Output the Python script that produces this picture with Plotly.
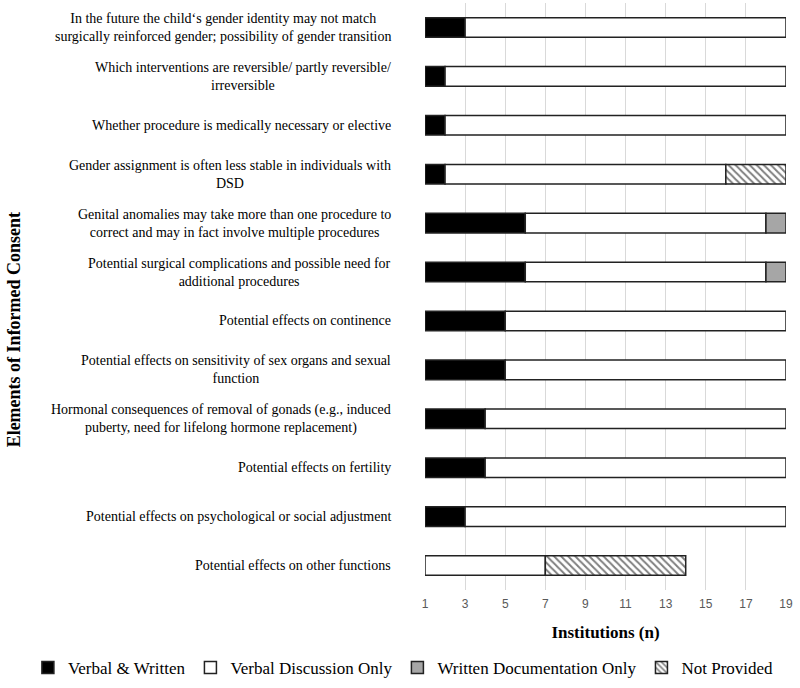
import plotly.graph_objects as go
import numpy as np

# Elementos do consentimento informado (de cima para baixo)
elements = [
    "In the future the child‘s gender identity may not match<br>surgically reinforced gender; possibility of gender transition",
    "Which interventions are reversible/ partly reversible/<br>irreversible",
    "Whether procedure is medically necessary or elective",
    "Gender assignment is often less stable in individuals with<br>DSD",
    "Genital anomalies may take more than one procedure to<br>correct and may in fact involve multiple procedures",
    "Potential surgical complications and possible need for<br>additional procedures",
    "Potential effects on continence",
    "Potential effects on sensitivity of sex organs and sexual<br>function",
    "Hormonal consequences of removal of gonads (e.g., induced<br>puberty, need for lifelong hormone replacement)",
    "Potential effects on fertility",
    "Potential effects on psychological or social adjustment",
    "Potential effects on other functions",
]

verbal_written = [2, 1, 1, 1, 5, 5, 4, 4, 3, 3, 2, 0]
verbal_only = [16, 17, 17, 14, 12, 12, 14, 14, 15, 15, 16, 6]
written_only = [0, 0, 0, 0, 1, 1, 0, 0, 0, 0, 0, 0]
not_provided = [0, 0, 0, 3, 0, 0, 0, 0, 0, 0, 0, 7]

x_ticks = [1, 3, 5, 7, 9, 11, 13, 15, 17, 19]
axis_start = 1

series = [
    ("Verbal & Written", verbal_written, "black", ""),
    ("Verbal Discussion Only", verbal_only, "white", ""),
    ("Written Documentation Only", written_only, "#a6a6a6", ""),
    ("Not Provided", not_provided, "white", "\\"),
]

SERIF = "Liberation Serif, Times New Roman, serif"

fig = go.Figure()

base = np.full(len(elements), axis_start, dtype=float)
for name, vals, color, shape in series:
    vals = np.array(vals, dtype=float)
    xs = [v if v > 0 else None for v in vals]
    fig.add_trace(go.Bar(
        y=elements,
        x=xs,
        base=base.copy(),
        orientation='h',
        name=name,
        width=0.4,
        marker=dict(
            color=color,
            line=dict(color='#222222', width=1.5),
            pattern=dict(shape=shape, fgcolor='black', bgcolor='white',
                         size=5, solidity=0.4, fillmode='overlay') if shape else None,
        ),
    ))
    base = base + vals

# rótulos das categorias, centralizados em várias linhas
for el in elements:
    fig.add_annotation(
        x=0, xref='paper', xanchor='right', xshift=-32,
        y=el, yref='y', yanchor='middle',
        text=el, align='center', showarrow=False,
        font=dict(family=SERIF, size=14, color='black'),
    )

fig.add_annotation(
    x=0, xref='paper', xshift=-411, xanchor='center',
    y=0.444, yref='paper', yanchor='middle',
    text='<b>Elements of Informed Consent</b>', textangle=-90, showarrow=False,
    font=dict(family=SERIF, size=18, color='black'),
)

fig.update_layout(
    barmode='overlay',
    width=800,
    height=688,
    margin=dict(l=425, r=14, t=3, b=97),
    plot_bgcolor='white',
    paper_bgcolor='white',
    xaxis=dict(
        range=[1, 19],
        tickvals=x_ticks,
        ticktext=[str(t) for t in x_ticks],
        tickfont=dict(family='Liberation Sans, Arial, sans-serif', size=12, color='#595959'),
        ticklabelstandoff=5,
        showgrid=True,
        gridcolor='#d9d9d9',
        gridwidth=1,
        zeroline=False,
        showline=False,
        ticks='',
        title=dict(text='<b>Institutions (n)</b>',
                   font=dict(family=SERIF, size=17, color='black'), standoff=16),
    ),
    yaxis=dict(
        categoryorder='array',
        categoryarray=elements,
        range=[11.5, -0.5],
        showticklabels=False,
        showgrid=False,
        zeroline=False,
        showline=False,
        ticks='',
    ),
    legend=dict(
        orientation='h',
        x=-1.10, xanchor='left',
        y=-0.131, yanchor='middle',
        font=dict(family=SERIF, size=17, color='black'),
        itemwidth=30,
        traceorder='normal',
    ),
    showlegend=True,
)

fig.write_html("out.html", config={'displayModeBar': False},
               post_script="document.body.style.margin='0';")
